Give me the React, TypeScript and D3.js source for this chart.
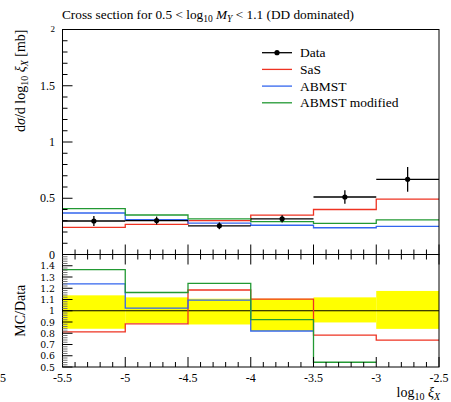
import React from "react";
import * as d3 from "d3";

const binEdges = [-5.5, -5, -4.5, -4, -3.5, -3, -2.5];
const dataVals = [0.298, 0.302, 0.255, 0.317, 0.511, 0.668];
const dataErr = [0.045, 0.035, 0.03, 0.033, 0.06, 0.11];
const sasVals = [0.242, 0.267, 0.302, 0.35, 0.4, 0.493];
const abmstVals = [0.369, 0.309, 0.279, 0.26, 0.238, 0.25];
const abmstModVals = [0.407, 0.351, 0.317, 0.292, 0.277, 0.307];
const bandUp = [1.137, 1.119, 1.107, 1.107, 1.119, 1.176];
const bandDown = [0.84, 0.89, 0.878, 0.82, 0.896, 0.839];

const xTicks = [-5.5, -5, -4.5, -4, -3.5, -3, -2.5];
const xTickLabels = ["-5.5", "-5", "-4.5", "-4", "-3.5", "-3", "-2.5"];
const mainYTicks = [0, 0.5, 1, 1.5, 2];
const mainYLabels = ["0", "0.5", "1", "1.5", "2"];
const ratioYTicks = [0.5, 0.6, 0.7, 0.8, 0.9, 1, 1.1, 1.2, 1.3, 1.4];
const ratioYLabels = ["0.5", "0.6", "0.7", "0.8", "0.9", "1", "1.1", "1.2", "1.3", "1.4"];

const legendNames = ["Data", "SaS", "ABMST", "ABMST modified"];

const RED = "#ee3322";
const BLUE = "#3366ee";
const GREEN = "#229933";
const FONT = "'Liberation Serif', 'DejaVu Serif', serif";

export default function App() {
  const W = 451, H = 402;
  const x = d3.scaleLinear().domain([-5.5, -2.5]).range([62.5, 439]);
  const yM = d3.scaleLinear().domain([0, 2]).range([254.5, 29.5]);
  const yR = d3.scaleLinear().domain([0.5, 1.5]).range([367, 254.5]);

  const models = [
    { vals: sasVals, color: RED },
    { vals: abmstVals, color: BLUE },
    { vals: abmstModVals, color: GREEN },
  ];

  const stepPts = (vals: number[]) => {
    const pts: [number, number][] = [];
    vals.forEach((v, i) => {
      pts.push([binEdges[i], v]);
      pts.push([binEdges[i + 1], v]);
    });
    return pts;
  };

  const mainLine = d3
    .line<[number, number]>()
    .x((d) => x(d[0]))
    .y((d) => yM(d[1]));

  const ratioLine = d3
    .line<[number, number]>()
    .defined((d) => d[1] >= 0.5 && d[1] <= 1.5)
    .x((d) => x(d[0]))
    .y((d) => yR(d[1]));

  const minorX = d3.range(-5.5, -2.5 + 1e-9, 0.1);
  const minorYM = d3.range(0, 2 + 1e-9, 0.1);
  const minorYR = d3.range(0.5, 1.5 + 1e-9, 0.02);

  const x0 = x(-5.5), x1 = x(-2.5);
  const isMajor = (v: number, step: number) => Math.abs(v / step - Math.round(v / step)) < 1e-6;

  const tickLen = 10, minorLen = 5;

  return (
    <svg width={W} height={H} style={{ position: "absolute", left: 0, top: 0, background: "#fff" }} fontFamily={FONT}>
      <defs>
        <clipPath id="ratioClip">
          <rect x={x0} y={yR(1.5)} width={x1 - x0} height={yR(0.5) - yR(1.5)} />
        </clipPath>
      </defs>
      {/* Title */}
      <text x={62} y={19} fontSize={13.3} fill="#000">
        Cross section for 0.5 &lt; log
        <tspan fontSize={9.5} dy={3}>10</tspan>
        <tspan dy={-3}> </tspan>
        <tspan fontStyle="italic">M</tspan>
        <tspan fontSize={9.5} dy={3} fontStyle="italic">Y</tspan>
        <tspan dy={-3}> &lt; 1.1 (DD dominated)</tspan>
      </text>

      {/* Main panel models */}
      {models.map((m, i) => (
        <path key={i} d={mainLine(stepPts(m.vals)) || ""} fill="none" stroke={m.color} strokeWidth={1.3} />
      ))}
      {/* Data */}
      {dataVals.map((v, i) => (
        <g key={i}>
          <line x1={x(binEdges[i])} x2={x(binEdges[i + 1])} y1={yM(v)} y2={yM(v)} stroke="#000" strokeWidth={1.3} />
          <line
            x1={x((binEdges[i] + binEdges[i + 1]) / 2)}
            x2={x((binEdges[i] + binEdges[i + 1]) / 2)}
            y1={yM(v - dataErr[i])}
            y2={yM(v + dataErr[i])}
            stroke="#000"
            strokeWidth={1.3}
          />
          <circle cx={x((binEdges[i] + binEdges[i + 1]) / 2)} cy={yM(v)} r={2.6} fill="#000" />
        </g>
      ))}

      {/* Legend */}
      {legendNames.map((n, i) => {
        const ly = 52.7 + i * 16.7;
        const col = ["#000", RED, BLUE, GREEN][i];
        return (
          <g key={n}>
            <line x1={262} x2={292} y1={ly} y2={ly} stroke={col} strokeWidth={1.3} />
            {i === 0 && <circle cx={277} cy={ly} r={2.6} fill="#000" />}
            <text x={300} y={ly + 4.5} fontSize={13.5} fill="#000">
              {n}
            </text>
          </g>
        );
      })}

      {/* Ratio panel band */}
      {bandUp.map((u, i) => (
        <rect
          key={i}
          x={x(binEdges[i])}
          width={x(binEdges[i + 1]) - x(binEdges[i])}
          y={yR(u)}
          height={yR(bandDown[i]) - yR(u)}
          fill="#ffff00"
        />
      ))}
      <line x1={x0} x2={x1} y1={yR(1)} y2={yR(1)} stroke="#000" strokeWidth={1.2} />
      <g clipPath="url(#ratioClip)">
        {models.map((m, i) => (
          <path
            key={i}
            d={ratioLine(stepPts(m.vals.map((v, j) => v / dataVals[j]))) || ""}
            fill="none"
            stroke={m.color}
            strokeWidth={1.3}
          />
        ))}
      </g>

      {/* Frames */}
      <rect x={x0} y={yM(2)} width={x1 - x0} height={yM(0) - yM(2)} fill="none" stroke="#000" strokeWidth={1} />
      <rect x={x0} y={yR(1.5)} width={x1 - x0} height={yR(0.5) - yR(1.5)} fill="none" stroke="#000" strokeWidth={1} />

      {/* X ticks */}
      {minorX.map((v, i) => {
        const maj = isMajor(v, 0.5);
        const len = maj ? tickLen : minorLen;
        const xx = x(v);
        return (
          <g key={i} stroke="#000" strokeWidth={1}>
            <line x1={xx} x2={xx} y1={yM(0)} y2={yM(0) - len} />
            <line x1={xx} x2={xx} y1={yR(1.5)} y2={yR(1.5) + len} />
            <line x1={xx} x2={xx} y1={yR(0.5)} y2={yR(0.5) - len} />
          </g>
        );
      })}
      {xTicks.map((v, i) => (
        <text key={i} x={x(v)} y={382} fontSize={12} textAnchor="middle" fill="#000">
          {xTickLabels[i]}
        </text>
      ))}
      <text x={0} y={382} fontSize={12} fill="#000">5</text>

      {/* Main Y ticks */}
      {minorYM.map((v, i) => {
        const maj = isMajor(v, 0.5);
        const len = maj ? tickLen : minorLen;
        return <line key={i} x1={x0} x2={x0 + len} y1={yM(v)} y2={yM(v)} stroke="#000" strokeWidth={1} />;
      })}
      {mainYTicks.map((v, i) => (
        <text
          key={i}
          x={55}
          y={yM(v) + (v === 2 ? 2 : 4)}
          fontSize={v === 2 ? 9 : 12}
          textAnchor="end"
          fill="#000"
        >
          {mainYLabels[i]}
        </text>
      ))}

      {/* Ratio Y ticks */}
      {minorYR.map((v, i) => {
        const maj = isMajor(v, 0.1);
        const len = maj ? tickLen : minorLen;
        return (
          <line
            key={i}
            x1={x0}
            x2={x0 + len}
            y1={yR(v)}
            y2={yR(v)}
            stroke={maj ? "#000" : "#777"}
            strokeWidth={1}
          />
        );
      })}
      {ratioYTicks.map((v, i) => (
        <text
          key={i}
          x={55}
          y={yR(v) + 3.5}
          fontSize={9.3}
          fontFamily="'DejaVu Serif', serif"
          textAnchor="end"
          fill="#000"
        >
          {ratioYLabels[i]}
        </text>
      ))}

      {/* Y label main */}
      <text transform="translate(25,29.5) rotate(-90)" textAnchor="end" fontSize={14} fill="#000">
        d<tspan fontStyle="italic">σ</tspan>/d log
        <tspan fontSize={10} dy={3}>10</tspan>
        <tspan dy={-3}> </tspan>
        <tspan fontStyle="italic">ξ</tspan>
        <tspan fontSize={10} dy={3} fontStyle="italic">X</tspan>
        <tspan dy={-3}> [mb]</tspan>
      </text>

      {/* Ratio label */}
      <text transform={`translate(25,${yR(1)}) rotate(-90)`} textAnchor="middle" fontSize={14} fill="#000">
        MC/Data
      </text>

      {/* X label */}
      <text x={440} y={397} textAnchor="end" fontSize={14} fill="#000">
        log<tspan fontSize={10} dy={3}>10</tspan>
        <tspan dy={-3}> </tspan>
        <tspan fontStyle="italic">ξ</tspan>
        <tspan fontSize={10} dy={3} fontStyle="italic">X</tspan>
      </text>
    </svg>
  );
}
